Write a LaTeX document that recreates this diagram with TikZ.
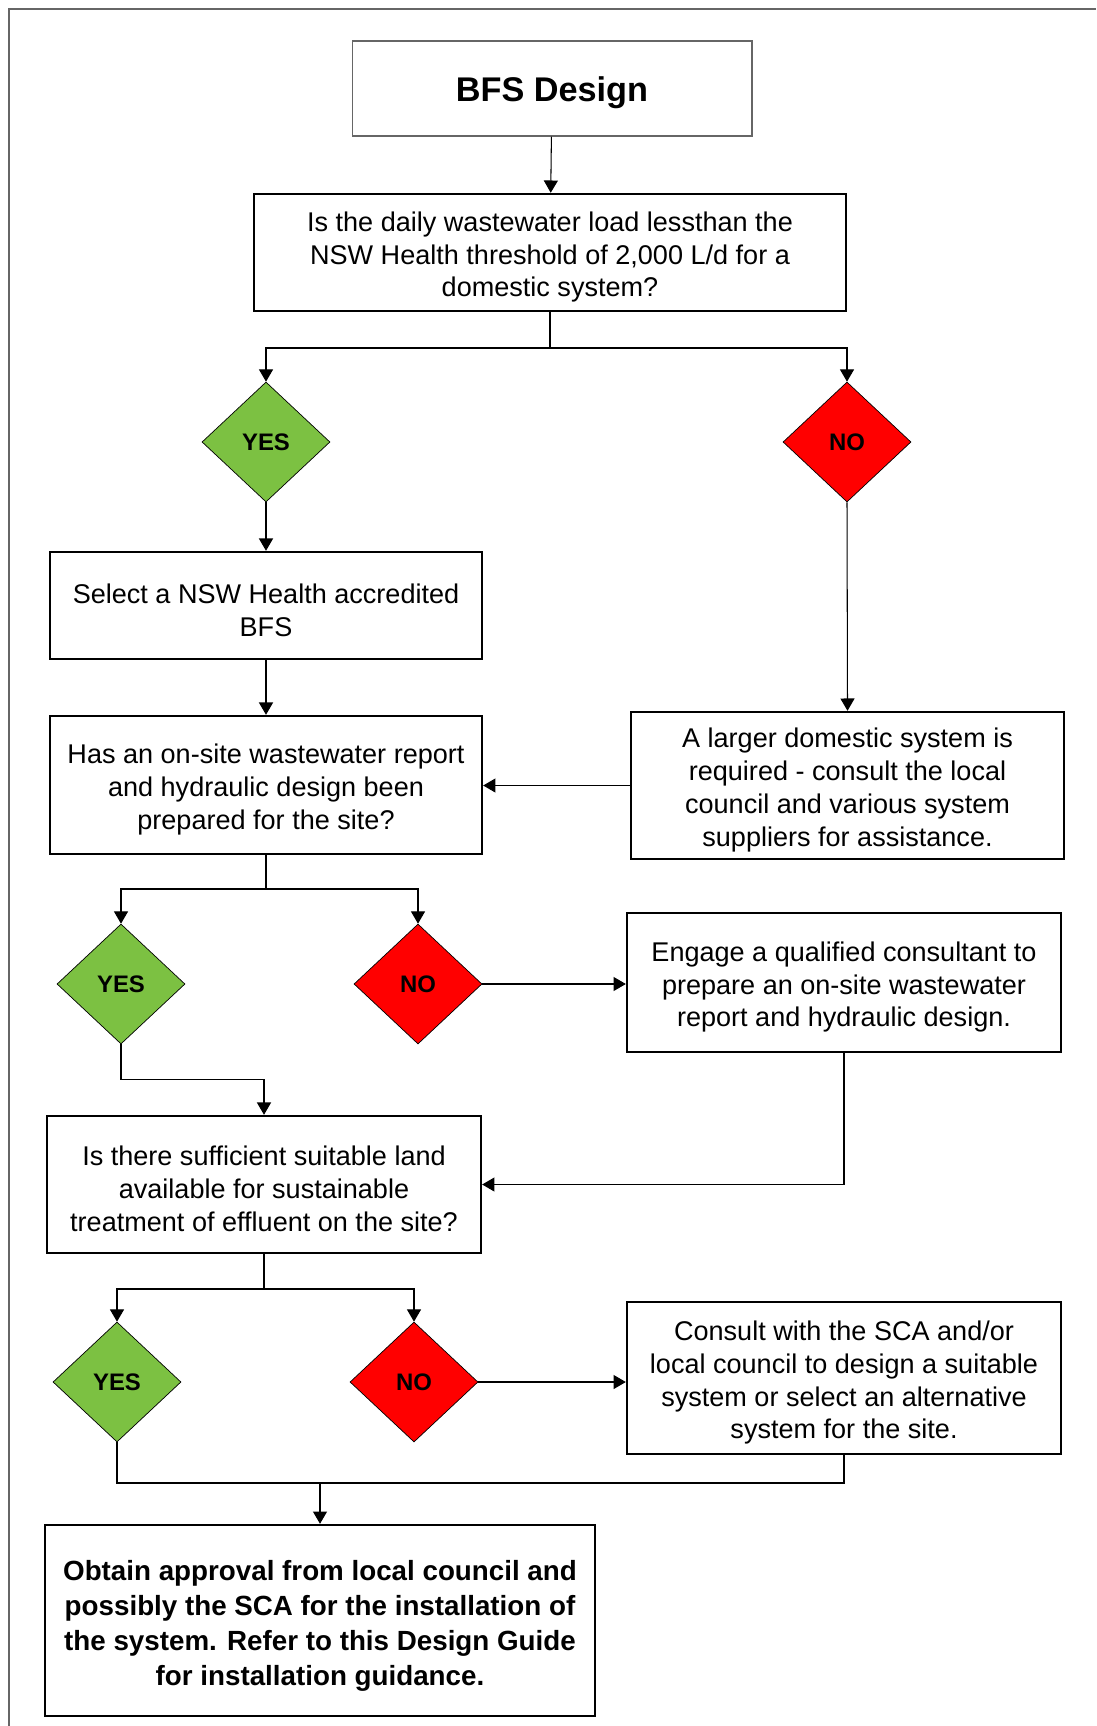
\documentclass[tikz,border=0pt]{standalone}
\usepackage{fontspec}
\setmainfont{Liberation Sans}
\usetikzlibrary{arrows.meta, shapes.geometric, calc}

\definecolor{yesgreen}{RGB}{124,193,66}
\definecolor{nored}{RGB}{255,0,0}
\newcommand{\topstrut}[1][16.4pt]{\rule{0pt}{#1}}

\begin{document}
\begin{tikzpicture}[x=0.02cm, y=-0.02cm, line width=0.6pt,
    arr/.style={-{Triangle[length=7pt,width=8pt]}},
    box/.style={draw, line width=1.4pt, rectangle, align=center, inner sep=0pt,
        font=\fontsize{15.4}{18.7}\selectfont},
    yesdia/.style={diamond, draw, line width=0.4pt, fill=yesgreen, inner sep=0pt,
        minimum width=2.56cm, minimum height=2.4cm,
        font=\fontsize{13.6}{16}\selectfont\bfseries},
    nodia/.style={yesdia, fill=nored}]
            \useasboundingbox (0,0) rectangle (1096,1726);

            % Frame
            \draw[black!60, line width=0.7pt] (9,1726) -- (9,9) -- (1096,9);

            % Title and first question
            \node[draw=black!60, line width=0.6pt, minimum width=8cm, minimum height=1.9cm,
                font=\fontsize{19.5}{22}\selectfont\bfseries] (title) at (552,88.5) {\topstrut[19pt]BFS Design};
            \node[box, minimum width=11.84cm, minimum height=2.34cm] (load) at (550,252.5)
                {\topstrut Is the daily wastewater load lessthan the\\NSW Health threshold of 2,000 L/d for a\\domestic system?};

            % First decision
            \node[yesdia] (yes1) at (266,442) {YES};
            \node[nodia] (no1) at (847,442) {NO};
            \node[box, minimum width=8.64cm, minimum height=2.14cm] (select) at (266,605.5)
                {\topstrut Select a NSW Health accredited\\BFS};
            \node[box, minimum width=8.64cm, minimum height=2.76cm] (report) at (266,785)
                {\topstrut Has an on-site wastewater report\\and hydraulic design been\\prepared for the site?};
            \node[box, minimum width=8.66cm, minimum height=2.94cm] (larger) at (847.5,785.5)
                {\topstrut A larger domestic system is\\required - consult the local\\council and various system\\suppliers for assistance.};

            % Second decision
            \node[yesdia] (yes2) at (121,984) {YES};
            \node[nodia] (no2) at (418,984) {NO};
            \node[box, minimum width=8.68cm, minimum height=2.78cm] (engage) at (844,982.5)
                {\topstrut Engage a qualified consultant to\\prepare an on-site wastewater\\report and hydraulic design.};
            \node[box, minimum width=8.68cm, minimum height=2.74cm] (land) at (264,1184.5)
                {\topstrut Is there sufficient suitable land\\available for sustainable\\treatment of effluent on the site?};

            % Third decision
            \node[yesdia] (yes3) at (117,1382) {YES};
            \node[nodia] (no3) at (414,1382) {NO};
            \node[box, minimum width=8.68cm, minimum height=3.04cm] (consult) at (844,1378)
                {\topstrut Consult with the SCA and/or\\local council to design a suitable\\system or select an alternative\\system for the site.};
            \node[box, minimum width=11cm, minimum height=3.82cm,
                font=\fontsize{15.8}{19.9}\selectfont\bfseries] (approval) at (320,1620.5)
                {\topstrut[17.8pt]Obtain approval from local council and\\possibly the SCA for the installation of\\the system. Refer to this Design Guide\\for installation guidance.};

            % Branch points
            \coordinate (split1) at (550,348);
            \coordinate (split2) at (266,889);
            \coordinate (split3) at (264,1289);
            \coordinate (merge) at (320,1483);

            % Connectors
            \draw[arr] (title) -- (load);
            \draw (load.south) -- (split1);
            \draw[arr] (split1) -| (yes1.north);
            \draw[arr] (split1) -| (no1.north);
            \draw[arr] (yes1.south) -- (select.north);
            \draw[arr] (no1.south) -- (larger.north);
            \draw[arr] (select.south) -- (report.north);
            \draw[arr] (larger.west) -- (larger.west -| report.east);
            \draw (report.south) -- (split2);
            \draw[arr] (split2) -| (yes2.north);
            \draw[arr] (split2) -| (no2.north);
            \draw[arr] (no2.east) -- (no2.east -| engage.west);
            \draw[arr] (yes2.south) |- ($(yes2.south)!0.5!(land.north)$) -| (land.north);
            \draw[arr] (engage.south) |- (land.east);
            \draw (land.south) -- (split3);
            \draw[arr] (split3) -| (yes3.north);
            \draw[arr] (split3) -| (no3.north);
            \draw[arr] (no3.east) -- (no3.east -| consult.west);
            \draw (yes3.south) |- (merge);
            \draw (consult.south) |- (merge);
            \draw[arr] (merge) -- (approval.north);
        \end{tikzpicture}
\end{document}
